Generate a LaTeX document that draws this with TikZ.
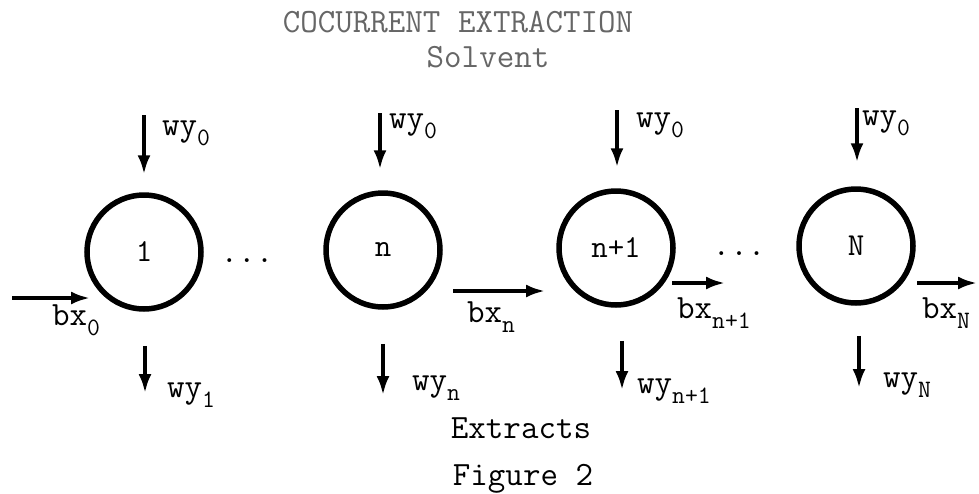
\documentclass[tikz,border=0pt]{standalone}
\usepackage{fontspec}
\usetikzlibrary{arrows.meta}
\newcommand{\lowsub}[1]{\raisebox{-10pt}{\fontsize{25}{25}\selectfont #1}}
\begin{document}
\begin{tikzpicture}[x=1pt,y=-1pt,
  every node/.style={font=\ttfamily\fontsize{34}{34}\selectfont},
  stage/.style={circle,draw,line width=5.5pt,minimum size=114pt,inner sep=0pt,font=\ttfamily\fontsize{32}{32}\selectfont},
  flow/.style={-{Latex[length=19pt,width=13pt]},line width=3.6pt},
  lbl/.style={inner sep=0pt,anchor=base west},
  ctr/.style={inner sep=0pt,anchor=base}]
\useasboundingbox (0,0) rectangle (979,493);

% title
\node[ctr,text=black!60] (title) at (458,32) {COCURRENT EXTRACTION};
\node[ctr,text=black!60] (solvent) at (488,67) {Solvent};

% stages
\node[stage] (s1) at (144,252) {1};
\node[stage] (sn) at (383,250) {n};
\node[stage] (sn1) at (616,248) {n+1};
\node[stage] (sN) at (856,246) {N};

% dots
\node[ctr] (d1) at (247,262) {...};
\node[ctr] (d2) at (739,255) {...};

% solvent feeds
\coordinate (t1) at (144,115);
\coordinate (tn) at (380,113);
\coordinate (tn1) at (617,110);
\coordinate (tN) at (857,108);
\draw[flow,shorten >=18pt] (t1) -- (t1 |- s1.north);
\draw[flow,shorten >=21pt] (tn) -- (tn |- sn.north);
\draw[flow,shorten >=21pt] (tn1) -- (tn1 |- sn1.north);
\draw[flow,shorten >=24pt] (tN) -- (tN |- sN.north);
\node[lbl] (w01) at (162,135) {wy\lowsub{0}};
\node[lbl] (w0n) at (389,128) {wy\lowsub{0}};
\node[lbl] (w0n1) at (636,127) {wy\lowsub{0}};
\node[lbl] (w0N) at (862,125) {wy\lowsub{0}};

% extracts
\coordinate (b1) at (145,393);
\coordinate (bn) at (383,395);
\coordinate (bn1) at (622,390);
\coordinate (bN) at (859,388);
\draw[flow,shorten <=34pt] (b1 |- s1.south) -- (b1);
\draw[flow,shorten <=34pt] (bn |- sn.south) -- (bn);
\draw[flow,shorten <=33pt] (bn1 |- sn1.south) -- (bn1);
\draw[flow,shorten <=30pt] (bN |- sN.south) -- (bN);
\node[lbl] (wy1) at (167,397) {wy\lowsub{1}};
\node[lbl] (wyn) at (412,390) {wy\lowsub{n}};
\node[lbl] (wyn1) at (637,393) {wy\lowsub{n+1}};
\node[lbl] (wyN) at (883,387) {wy\lowsub{N}};

% raffinate flows
\coordinate (x0a) at (12,298);
\coordinate (x0b) at (90,298);
\coordinate (xna) at (453,291);
\coordinate (xnb) at (545,291);
\coordinate (xn1a) at (672,283);
\coordinate (xn1b) at (725,283);
\coordinate (xNa) at (917,283);
\coordinate (xNb) at (977,283);
\draw[flow] (x0a) -- (x0b);
\draw[flow] (xna) -- (xnb);
\draw[flow] (xn1a) -- (xn1b);
\draw[flow] (xNa) -- (xNb);
\node[lbl] (bx0) at (52,325) {bx\lowsub{0}};
\node[lbl] (bxn) at (467,322) {bx\lowsub{n}};
\node[lbl] (bxn1) at (677,318) {bx\lowsub{n+1}};
\node[lbl] (bxN) at (922,318) {bx\lowsub{N}};

% captions
\node[ctr] (extracts) at (521,438) {Extracts};
\node[ctr] (fig) at (523,485) {Figure 2};
\end{tikzpicture}
\end{document}
